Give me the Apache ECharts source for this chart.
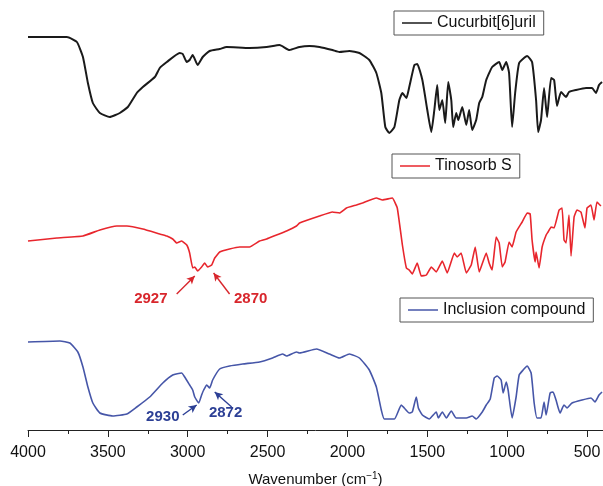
<!DOCTYPE html>
<html>
<head>
<meta charset="utf-8">
<script src="https://cdn.jsdelivr.net/npm/echarts@6/dist/echarts.min.js"></script>
<style>
html,body{margin:0;padding:0;background:#fff;}
#chart{width:603px;height:486px;}
</style>
</head>
<body>
<div id="chart"></div>
<script>
// Wavenumbers (cm-1) and offset transmittance (a.u.)
const cb6Wn = [4000,3756,3694,3656,3625,3594,3550,3488,3425,3375,3319,3281,3206,3175,3131,3050,3031,3006,2988,2969,2938,2906,2863,2800,2756,2613,2506,2425,2363,2300,2238,2175,2094,2050,1988,1925,1863,1819,1788,1763,1738,1706,1675,1656,1631,1613,1581,1563,1531,1500,1475,1456,1438,1425,1406,1388,1369,1350,1338,1319,1306,1281,1256,1238,1219,1194,1175,1156,1131,1094,1050,1031,1006,988,969,950,925,875,844,819,806,788,769,750,725,706,688,663,631,613,569,506,469,444,425,406];
const cb6T = [393,393,388,373,347,327,317,313,317,323,337,343,353,362,368,377,376,368,370,375,365,373,379,381,383,382,383,385,380,383,384,383,380,378,379,377,370,357,337,303,297,303,330,337,332,343,365,366,350,320,298,320,345,320,330,307,348,330,303,317,310,323,305,320,300,310,327,333,350,363,368,360,368,357,303,337,367,374,368,330,298,310,342,313,352,350,324,338,333,338,340,342,342,337,345,348];

const tinWn = [4000,3819,3656,3550,3444,3381,3281,3175,3131,3094,3069,3038,3006,2988,2969,2956,2938,2913,2894,2875,2850,2831,2800,2738,2675,2613,2550,2506,2444,2381,2319,2300,2175,2094,2050,2006,1944,1906,1819,1781,1719,1688,1656,1631,1613,1594,1563,1538,1506,1475,1444,1406,1375,1331,1313,1288,1256,1225,1200,1175,1131,1113,1094,1069,1050,1031,1013,988,969,944,906,875,856,844,825,819,800,781,756,744,725,706,675,656,644,631,613,600,581,563,538,513,500,475,456,438,413];
const tinT = [189,192,194,200,204,204,201,196,194,191,187,189,185,177,162,163,159,163,167,163,165,172,178,181,183,183,189,191,195,199,204,207,214,218,217,222,225,227,232,230,232,222,185,162,160,156,167,154,155,163,158,169,157,177,173,177,157,165,183,158,177,167,160,193,187,163,168,188,183,198,208,217,216,190,168,178,162,183,195,198,203,202,220,222,190,187,215,174,213,220,218,202,222,225,210,228,224];

const incWn = [4000,3800,3738,3688,3656,3625,3594,3550,3469,3381,3319,3238,3156,3094,3038,3019,2988,2969,2956,2931,2913,2900,2881,2863,2844,2800,2738,2656,2550,2469,2406,2381,2319,2300,2194,2113,2050,1988,1925,1863,1819,1788,1769,1706,1663,1644,1613,1594,1569,1556,1531,1488,1444,1431,1406,1381,1350,1319,1256,1219,1194,1156,1131,1106,1081,1063,1038,1025,1006,994,969,944,925,900,875,850,831,813,788,769,756,731,713,694,669,644,625,594,531,475,450,425,406];
const incT = [88,89,87,78,63,43,27,17,14,16,23,33,47,55,57,53,45,40,33,27,35,40,45,42,50,61,64,66,68,72,76,74,78,77,81,76,72,76,72,60,43,20,11,11,25,22,17,18,33,22,15,11,18,12,18,12,19,12,12,14,11,18,25,31,52,54,50,37,48,40,12,33,55,60,64,57,27,12,12,28,15,37,38,30,17,25,22,27,30,32,28,35,38];

const seriesNames = ['Cucurbit[6]uril', 'Tinosorb S', 'Inclusion compound'];
const majorTicks = [4000,3500,3000,2500,2000,1500,1000,500];
const minorTicks = [3750,3250,2750,2250,1750,1250,750];

// annotations: peak labels and arrow ends (wavenumber, a.u.)
const redLabels = [['2927', 3231, 131], ['2870', 2606, 131]];
const redArrows = [[[3069,136],[2956,154]], [[2738,136],[2838,157]]];
const blueLabels = [['2930', 3156, 13], ['2872', 2763, 17]];
const blueArrows = [[[3031,15],[2944,25]], [[2725,23],[2831,38]]];

const zip = (a, b) => a.map((v, i) => [v, b[i]]);

const colors = ['#1a1a1a', '#e8262d', '#4656a8'];
const labelColors = ['#000', '#d8262c', '#2c3f95'];
const FONT = 'Liberation Sans, Arial, sans-serif';

function annot(labels, arrows, color) {
  return {
    markLine: {
      silent: true,
      symbol: ['none', 'arrow'],
      symbolSize: [6, 8],
      lineStyle: { color: color, width: 1.4, type: 'solid' },
      label: { show: false },
      data: arrows.map(a => [{ coord: a[0] }, { coord: a[1] }])
    },
    markPoint: {
      silent: true,
      symbol: 'circle',
      symbolSize: 1,
      itemStyle: { color: 'rgba(0,0,0,0)' },
      label: {
        show: true, position: 'inside', formatter: '{b}',
        color: color, fontWeight: 'bold', fontSize: 15, fontFamily: FONT
      },
      data: labels.map(l => ({ name: l[0], coord: [l[1], l[2]] }))
    }
  };
}

const chart = echarts.init(document.getElementById('chart'), null, { renderer: 'canvas' });

const legendBase = {
  orient: 'horizontal',
  icon: 'rect',
  itemWidth: 30,
  itemHeight: 1.5,
  itemGap: 0,
  borderColor: '#555',
  borderWidth: 1,
  borderRadius: 0,
  padding: [4, 8, 4, 8],
  textStyle: { fontSize: 16, color: '#111', fontFamily: FONT },
  selectedMode: false
};

const option = {
  animation: false,
  backgroundColor: '#fff',
  grid: { left: 28, right: 0, top: 0, bottom: 56, containLabel: false, outerBoundsMode: 'none' },
  legend: [
    Object.assign({}, legendBase, { data: [seriesNames[0]], left: 394, top: 11 }),
    Object.assign({}, legendBase, { data: [seriesNames[1]], left: 392, top: 154 }),
    Object.assign({}, legendBase, { data: [seriesNames[2]], left: 400, top: 298 })
  ],
  xAxis: [
    {
      type: 'value', inverse: true, min: 400, max: 4000,
      axisLine: { show: true, lineStyle: { color: '#222', width: 1 } },
      axisTick: { show: true, length: 7, lineStyle: { color: '#222', width: 1 }, customValues: majorTicks },
      axisLabel: {
        show: true, customValues: majorTicks, margin: 15,
        formatter: v => String(v),
        fontSize: 16, color: '#111', fontFamily: FONT
      },
      splitLine: { show: false },
      name: 'Wavenumber (cm{sup|−1})',
      nameLocation: 'middle', nameGap: 41,
      nameTextStyle: {
        fontSize: 15, color: '#111', fontFamily: FONT,
        rich: { sup: { fontSize: 10, verticalAlign: 'top', padding: [0, 0, 8, 0], color: '#111', fontFamily: FONT } }
      }
    },
    {
      type: 'value', inverse: true, min: 400, max: 4000, position: 'bottom',
      axisLine: { show: false },
      axisTick: { show: true, length: 4, lineStyle: { color: '#222', width: 1 }, customValues: minorTicks },
      axisLabel: { show: false },
      splitLine: { show: false }
    }
  ],
  yAxis: { type: 'value', min: 0, max: 430, show: false },
  series: [
    {
      name: seriesNames[0], type: 'line', data: zip(cb6Wn, cb6T),
      showSymbol: false, symbol: 'none', lineStyle: { color: colors[0], width: 2 },
      itemStyle: { color: colors[0] }, smooth: 0.15
    },
    Object.assign({
      name: seriesNames[1], type: 'line', data: zip(tinWn, tinT),
      showSymbol: false, symbol: 'none', lineStyle: { color: colors[1], width: 1.6 },
      itemStyle: { color: colors[1] }, smooth: 0.1
    }, annot(redLabels, redArrows, labelColors[1])),
    Object.assign({
      name: seriesNames[2], type: 'line', data: zip(incWn, incT),
      showSymbol: false, symbol: 'none', lineStyle: { color: colors[2], width: 1.6 },
      itemStyle: { color: colors[2] }, smooth: 0.15
    }, annot(blueLabels, blueArrows, labelColors[2]))
  ]
};
chart.setOption(option);
</script>
</body>
</html>
